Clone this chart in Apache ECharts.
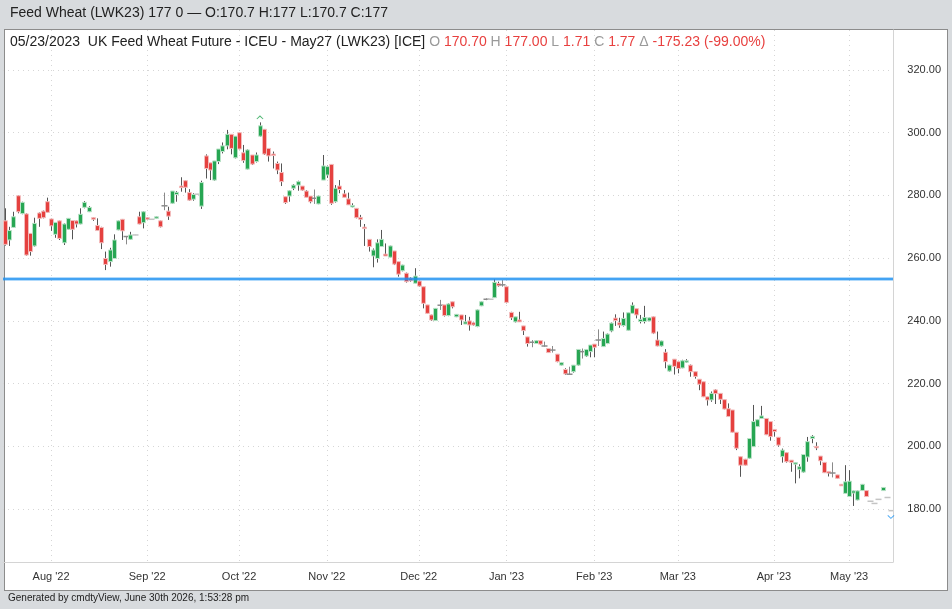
<!DOCTYPE html>
<html>
<head>
<meta charset="utf-8">
<script src="https://cdn.jsdelivr.net/npm/echarts@6/dist/echarts.min.js"></script>
<style>
  body { margin: 0; background: #d8dbde; }
  #panel { position: absolute; left: 4px; top: 29px; width: 942px; height: 560px; background: #fff; border: 1px solid #8c8c8c; }
  #main { position: absolute; left: 0; top: 0; width: 952px; height: 609px; }
</style>
</head>
<body>
<div id="panel"></div>
<div id="main"></div>
<script>
// trading days: weekdays from startDate, skipping exchange holidays
var startDate = '2022-07-15';
var holidays = ['2022-12-26', '2023-01-02', '2023-04-07', '2023-04-10', '2023-05-01', '2023-05-08'];
var monthNames = ['Jan', 'Feb', 'Mar', 'Apr', 'May', 'Jun', 'Jul', 'Aug', 'Sep', 'Oct', 'Nov', 'Dec'];
var priceTicks = [180, 200, 220, 240, 260, 280, 300, 320];
var supportLevel = 253.5;

// [open, close, low, high] per trading day
var ohlc = [
  [271.9, 264.4, 264.0, 275.9], [265.8, 268.8, 263.9, 270.0], [269.8, 273.2, 269.7, 274.8], [279.9, 274.8, 274.3, 280.1],
  [274.2, 277.8, 274.0, 278.0], [274.1, 261.0, 260.8, 274.3], [267.9, 262.1, 260.8, 268.0], [263.9, 271.1, 263.7, 272.9],
  [274.4, 272.7, 270.0, 274.6], [275.0, 272.9, 272.7, 275.2], [278.0, 274.6, 274.5, 279.3], [272.5, 270.3, 268.7, 272.6],
  [267.6, 271.4, 266.5, 271.5], [271.9, 266.3, 265.8, 272.0], [264.9, 270.9, 264.2, 271.1], [269.2, 272.7, 269.0, 272.8],
  [272.0, 269.2, 266.0, 272.1], [271.9, 270.9, 269.8, 272.0], [270.9, 274.0, 270.8, 275.9], [276.2, 277.8, 275.9, 278.2],
  [274.8, 276.2, 274.7, 276.6], [272.9, 272.4, 271.9, 273.0], [270.4, 268.8, 268.7, 272.7], [269.8, 264.9, 262.9, 270.0],
  [259.9, 258.0, 256.2, 262.1], [258.9, 262.6, 257.3, 263.3], [259.9, 265.8, 259.8, 267.6], [269.0, 271.9, 268.9, 272.0],
  [272.4, 268.7, 265.8, 272.5], [266.9, 266.9, 264.4, 267.0], [266.0, 267.4, 265.8, 268.4], [267.4, 267.4, 267.3, 267.5],
  [273.2, 270.9, 270.8, 274.8], [271.3, 274.8, 269.5, 275.0], [272.9, 272.4, 272.3, 273.0], [272.4, 272.4, 272.3, 272.5],
  [272.7, 273.2, 272.6, 273.3], [271.9, 270.0, 269.8, 272.0], [276.7, 276.7, 275.3, 280.9], [275.0, 273.4, 272.2, 276.4],
  [277.5, 281.4, 277.3, 281.4], [280.3, 281.0, 278.0, 281.4], [283.0, 282.5, 281.2, 285.8], [284.7, 282.6, 280.9, 284.8],
  [280.9, 278.5, 278.3, 282.0], [278.8, 280.3, 278.3, 280.7], [280.4, 280.4, 280.3, 280.5], [276.6, 284.1, 275.7, 284.7],
  [292.6, 288.6, 285.4, 293.1], [290.4, 288.1, 284.9, 290.4], [284.9, 291.0, 284.7, 291.0], [290.8, 294.8, 290.0, 294.8],
  [294.0, 295.8, 293.4, 296.9], [295.8, 299.5, 294.7, 300.9], [299.5, 295.0, 293.1, 299.5], [292.0, 298.9, 291.8, 298.9],
  [300.0, 294.8, 294.7, 300.0], [293.6, 291.1, 290.4, 296.1], [288.4, 294.5, 288.3, 294.7], [292.9, 290.0, 289.7, 292.9],
  [290.8, 292.9, 290.5, 293.7], [298.9, 302.2, 298.7, 303.3], [301.1, 293.2, 292.9, 301.1], [295.0, 292.6, 290.8, 295.0],
  [293.2, 292.9, 288.6, 294.0], [290.2, 288.1, 286.8, 290.8], [287.3, 284.4, 283.0, 290.2], [279.6, 277.7, 277.3, 279.6],
  [279.8, 281.5, 278.0, 281.7], [282.3, 283.3, 281.7, 283.6], [283.3, 284.4, 281.5, 284.7], [283.0, 281.7, 281.5, 283.0],
  [281.4, 279.4, 279.4, 281.7], [279.8, 278.0, 277.5, 279.8], [279.1, 279.1, 277.3, 281.9], [277.3, 279.8, 277.2, 279.9],
  [284.9, 289.4, 284.9, 292.9], [286.5, 289.2, 285.6, 289.5], [289.9, 277.5, 277.0, 290.0], [278.0, 282.3, 277.7, 283.3],
  [283.0, 281.9, 280.7, 284.9], [280.5, 279.4, 279.4, 281.7], [278.9, 277.0, 277.0, 280.9], [276.5, 276.8, 276.2, 277.5],
  [275.9, 272.9, 272.7, 275.9], [273.0, 272.4, 270.0, 273.8], [269.9, 269.6, 263.9, 270.9], [266.0, 263.7, 262.1, 266.0],
  [260.7, 262.6, 257.1, 263.1], [259.9, 264.9, 258.6, 266.0], [263.7, 266.0, 263.7, 269.0], [261.3, 260.7, 260.7, 264.7],
  [260.3, 263.9, 260.2, 264.0], [262.3, 258.1, 257.8, 262.3], [258.9, 254.9, 254.1, 258.9], [256.0, 257.8, 255.8, 257.9],
  [255.2, 252.5, 252.2, 255.4], [253.6, 252.8, 252.5, 253.9], [252.0, 254.3, 252.0, 256.8], [252.7, 251.1, 250.9, 252.8],
  [250.9, 245.6, 244.0, 250.9], [245.1, 242.4, 242.2, 245.1], [241.9, 240.3, 240.0, 242.0], [240.1, 244.0, 240.0, 244.1],
  [245.0, 245.0, 243.5, 246.7], [245.1, 241.7, 241.4, 245.1], [241.7, 245.4, 241.5, 245.6], [246.1, 244.5, 244.0, 246.1],
  [241.3, 242.1, 241.2, 242.2], [241.9, 240.3, 238.7, 241.9], [239.0, 239.7, 239.0, 241.9], [240.0, 238.7, 236.9, 241.3],
  [239.4, 238.7, 238.5, 239.6], [238.2, 243.5, 238.0, 243.6], [244.8, 246.1, 244.7, 246.2], [246.9, 246.9, 246.6, 247.2],
  [246.9, 246.9, 246.8, 247.0], [247.4, 252.3, 247.4, 253.3], [251.9, 251.2, 250.9, 252.5], [251.5, 251.5, 250.9, 253.0],
  [250.9, 245.9, 245.6, 250.9], [242.7, 241.0, 240.3, 242.9], [239.7, 241.3, 239.5, 241.3], [240.3, 239.7, 239.7, 242.9],
  [238.4, 236.9, 235.5, 238.4], [234.9, 232.8, 231.8, 234.9], [233.2, 233.2, 231.6, 233.9], [232.8, 233.7, 232.7, 233.8],
  [233.7, 232.6, 232.3, 233.7], [232.0, 232.0, 231.8, 233.4], [231.2, 229.9, 229.8, 231.2], [230.7, 230.7, 229.9, 232.0],
  [229.4, 227.0, 226.8, 229.4], [225.9, 226.7, 225.8, 226.9], [224.5, 223.1, 222.8, 224.9], [223.0, 223.0, 222.8, 225.4],
  [223.8, 225.9, 223.5, 225.9], [225.9, 230.9, 225.7, 230.9], [230.2, 230.2, 228.0, 231.2], [228.8, 230.9, 228.5, 231.0],
  [230.2, 232.3, 228.4, 232.3], [232.6, 231.6, 228.4, 232.6], [233.9, 233.9, 232.0, 237.3], [231.8, 234.4, 231.8, 236.6],
  [232.8, 235.8, 232.6, 236.0], [236.8, 239.3, 236.4, 239.5], [240.9, 240.1, 238.4, 242.1], [239.4, 238.7, 237.8, 241.0],
  [238.5, 240.8, 238.2, 242.7], [237.0, 242.6, 236.9, 242.6], [242.4, 245.0, 242.3, 245.9], [243.9, 241.9, 240.8, 243.9],
  [239.8, 240.5, 239.2, 241.9], [239.8, 241.1, 239.2, 244.8], [240.0, 241.0, 239.9, 241.1], [241.3, 236.1, 235.8, 241.4],
  [233.9, 232.0, 231.9, 236.6], [232.0, 233.6, 231.8, 233.7], [230.0, 227.0, 224.9, 231.0], [224.0, 225.9, 223.8, 226.0],
  [227.8, 225.5, 222.9, 227.8], [227.0, 224.8, 223.3, 227.0], [225.0, 227.3, 224.9, 227.6], [227.0, 227.3, 226.6, 227.8],
  [225.9, 223.8, 222.2, 226.1], [223.8, 222.3, 221.6, 223.8], [221.4, 219.8, 217.9, 221.4], [220.6, 215.8, 215.7, 220.6],
  [215.8, 214.8, 213.0, 215.8], [214.8, 216.9, 214.2, 217.5], [218.0, 216.8, 213.5, 218.2], [216.9, 215.0, 213.5, 216.9],
  [214.9, 211.9, 211.8, 214.9], [212.0, 209.5, 209.4, 213.7], [211.6, 204.5, 204.4, 211.6], [204.5, 199.4, 198.8, 204.5],
  [196.7, 194.0, 190.3, 196.7], [195.9, 194.0, 193.9, 196.0], [196.2, 202.5, 196.0, 202.6], [199.9, 207.9, 199.9, 213.2],
  [206.3, 208.5, 206.2, 208.6], [208.9, 209.7, 208.9, 212.9], [208.9, 203.7, 203.6, 208.9], [207.9, 203.1, 201.8, 207.9],
  [205.4, 204.7, 203.1, 205.5], [202.9, 200.4, 199.9, 202.9], [196.7, 198.8, 194.8, 199.3], [198.0, 195.1, 194.8, 198.2],
  [195.6, 194.9, 191.9, 195.6], [194.5, 194.8, 188.2, 194.9], [192.7, 193.5, 189.8, 194.3], [191.8, 197.4, 191.6, 197.5],
  [196.6, 201.5, 195.1, 203.0], [202.5, 203.2, 201.0, 203.6], [200.0, 199.8, 198.8, 201.3], [196.9, 195.4, 194.0, 196.9],
  [194.9, 191.6, 191.5, 194.9], [192.0, 191.5, 190.4, 192.0], [191.5, 191.5, 190.1, 194.9], [190.9, 189.8, 189.7, 190.9],
  [187.9, 187.7, 187.6, 188.0], [185.0, 188.7, 185.0, 194.0], [184.0, 188.9, 184.0, 192.4], [185.1, 185.8, 181.0, 185.9],
  [182.9, 185.8, 182.8, 185.9], [185.9, 187.9, 185.8, 188.0], [185.9, 184.0, 183.9, 185.9], [182.5, 182.5, 182.4, 182.6],
  [181.8, 181.8, 181.7, 181.9], [183.1, 183.1, 183.0, 183.2], [185.9, 186.9, 185.8, 187.0], [183.7, 183.7, 183.6, 183.8],
  [179.5, 179.5, 179.4, 179.6]
];

// build the trading-day categories
var dates = [];
var d = new Date(startDate + 'T12:00:00Z');
while (dates.length < ohlc.length) {
    var iso = d.toISOString().slice(0, 10);
    var wd = d.getUTCDay();
    if (wd !== 0 && wd !== 6 && holidays.indexOf(iso) < 0) {
        dates.push(iso);
    }
    d.setUTCDate(d.getUTCDate() + 1);
}

// first trading day of every month gets a tick, label and grid line
function isMonthStart(index) {
    return index > 0 && dates[index].slice(5, 7) !== dates[index - 1].slice(5, 7);
}
function monthLabel(value) {
    return monthNames[parseInt(value.slice(5, 7), 10) - 1] + " '" + value.slice(2, 4);
}

var candleData = ohlc.map(function (r, i) {
    return [i, r[0], r[1], r[2], r[3]];
});

// highest high / lowest low markers
var hiIdx = 0, loIdx = 0;
ohlc.forEach(function (r, i) {
    if (r[3] > ohlc[hiIdx][3]) hiIdx = i;
    if (r[2] < ohlc[loIdx][2]) loIdx = i;
});

var UP = '#27a653', DOWN = '#e5413f';

var myChart = echarts.init(document.getElementById('main'));

var option = {
    backgroundColor: 'transparent',
    animation: false,
    textStyle: { fontFamily: 'Liberation Sans, Arial, sans-serif' },
    grid: { left: 3, right: 59, top: 30, bottom: 47 },
    xAxis: {
        type: 'category',
        data: dates,
        boundaryGap: true,
        axisLine: { lineStyle: { color: '#d4d4d4' } },
        axisTick: {
            interval: function (i) { return isMonthStart(i); },
            alignWithLabel: true,
            length: 5,
            lineStyle: { color: '#cfcfcf' }
        },
        axisLabel: {
            interval: function (i) { return isMonthStart(i); },
            formatter: monthLabel,
            color: '#333',
            fontSize: 11,
            margin: 9
        },
        splitLine: {
            show: true,
            interval: function (i) { return isMonthStart(i); },
            alignWithLabel: true,
            lineStyle: { color: '#d6d6d6', type: [1, 4] }
        }
    },
    yAxis: {
        type: 'value',
        position: 'right',
        min: 163.13,
        max: 332.75,
        axisLine: { show: true, lineStyle: { color: '#d4d4d4' } },
        axisTick: { show: false, customValues: priceTicks },
        axisLabel: {
            customValues: priceTicks,
            formatter: function (v) { return v.toFixed(2); },
            color: '#333',
            fontSize: 11,
            align: 'right',
            margin: 48
        },
        splitLine: { show: true, lineStyle: { color: '#d6d6d6', type: [1, 4] } }
    },
    graphic: [
        {
            type: 'text', left: 10, top: 6, z: 100,
            style: { text: 'Feed Wheat (LWK23) 177 0 \u2014 O:170.7 H:177 L:170.7 C:177', font: '14px Liberation Sans, Arial', fill: '#222' }
        },
        {
            type: 'text', left: 10, top: 35, z: 100,
            style: {
                text: '{k|05/23/2023  UK Feed Wheat Future - ICEU - May27 (LWK23) [ICE] }{g|O }{r|170.70 }{g|H }{r|177.00 }{g|L }{r|1.71 }{g|C }{r|1.77 }{g|\u0394 }{r|-175.23 (-99.00%)}',
                rich: {
                    k: { font: '14px Liberation Sans, Arial', fill: '#222' },
                    g: { font: '14px Liberation Sans, Arial', fill: '#9a9a9a' },
                    r: { font: '14px Liberation Sans, Arial', fill: '#e8403f' }
                }
            }
        },
        {
            type: 'text', left: 8, top: 593, z: 100,
            style: { text: 'Generated by cmdtyView, June 30th 2026, 1:53:28 pm', font: '10px Liberation Sans, Arial', fill: '#222' }
        }
    ],
    series: [
        {
            type: 'custom',
            name: 'LWK23',
            clip: true,
            encode: { x: 0, y: [1, 2, 3, 4] },
            data: candleData,
            renderItem: function (params, api) {
                var i = api.value(0);
                var o = api.value(1), c = api.value(2), l = api.value(3), h = api.value(4);
                var pO = api.coord([i, o]), pC = api.coord([i, c]);
                var pL = api.coord([i, l]), pH = api.coord([i, h]);
                var cx = Math.round(pO[0]) + 0.5;
                var children = [];
                if (o === c) {
                    var flat = (h - l) < 0.5;
                    var col = flat ? '#c4c4c4' : '#8a8a8a';
                    children.push({ type: 'line', shape: { x1: cx, y1: pH[1], x2: cx, y2: pL[1] }, style: { stroke: col, lineWidth: 1 } });
                    children.push({ type: 'line', shape: { x1: cx - 3, y1: pO[1], x2: cx + 3, y2: pO[1] }, style: { stroke: col, lineWidth: 1.5 } });
                    return { type: 'group', children: children };
                }
                var up = c > o;
                var fill = up ? UP : DOWN;
                var halo = up ? '#b9e2c7' : '#f3bcbc';
                var top = Math.min(pO[1], pC[1]);
                var hgt = Math.max(Math.abs(pO[1] - pC[1]), 1.5);
                children.push({ type: 'line', shape: { x1: cx, y1: pH[1], x2: cx, y2: pL[1] }, style: { stroke: '#555', lineWidth: 1 } });
                children.push({ type: 'rect', shape: { x: cx - 2, y: top, width: 4, height: hgt }, style: { fill: fill, stroke: halo, lineWidth: 1 } });
                return { type: 'group', children: children };
            },
            markLine: {
                silent: true,
                symbol: ['none', 'none'],
                label: { show: false },
                animation: false,
                data: [
                    { yAxis: supportLevel, lineStyle: { color: 'rgba(33,150,243,0.35)', width: 4, type: 'solid' } },
                    { yAxis: supportLevel, lineStyle: { color: '#1e90f0', width: 1.5, type: 'solid' } }
                ]
            }
        },
        {
            type: 'scatter',
            name: 'extremes',
            silent: true,
            data: [
                { value: [hiIdx, ohlc[hiIdx][3]], symbol: 'path://M0,5 L5,0 L10,5 L9,6 L5,2 L1,6 Z', symbolSize: [7, 4], symbolOffset: [0, -5], itemStyle: { color: '#27a653' } },
                { value: [loIdx, ohlc[loIdx][2]], symbol: 'path://M0,1 L1,0 L5,4 L9,0 L10,1 L5,6 Z', symbolSize: [7, 4], symbolOffset: [0, 6], itemStyle: { color: '#2196f3' } }
            ]
        }
    ]
};

myChart.setOption(option);
</script>
</body>
</html>
